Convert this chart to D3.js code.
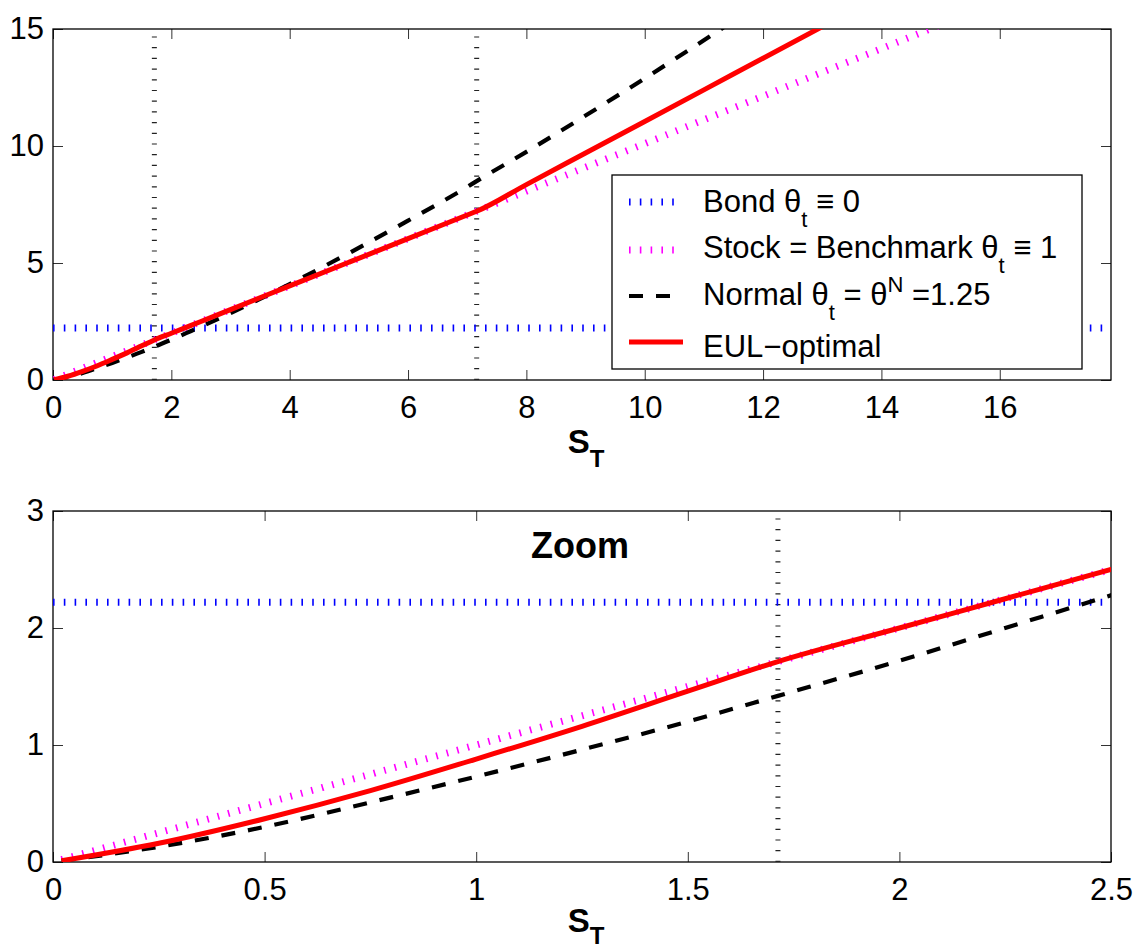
<!DOCTYPE html>
<html lang="en">
<head>
<meta charset="UTF-8">
<title>EUL-optimal wealth vs S_T</title>
<script src="https://d3js.org/d3.v7.min.js"></script>
<style>
    body { margin: 0; background: #fff; }
    svg { display: block; font-family: "Liberation Sans", Arial, Helvetica, sans-serif; }
    .tick text { font-size: 31px; fill: #000; }
    .tick line { stroke: #333; stroke-width: 1; }
    .frame { fill: none; stroke: #000; stroke-width: 1.3; }
    .legend text { font-size: 31px; white-space: pre; }
</style>
</head>
<body>
<div id="fig"></div>
<script>
    // terminal stock price grid and the wealth curves
    let sGrid    = [0.02, 0.25, 0.5, 0.75, 1, 1.25, 1.5, 1.713, 2, 2.25, 2.5, 3, 4, 5, 6, 7, 7.16, 8, 9, 10, 11, 12, 13, 14, 15];
    let stockW   = [0.02, 0.25, 0.5, 0.75, 1, 1.25, 1.5, 1.713, 2, 2.25, 2.5, 3.01, 4.02, 5.03, 6.04, 7.05, 7.21, 8.07, 9.09, 10.1, 11.12, 12.13, 13.15, 14.16, 15.18];
    let normalW  = [0.01, 0.13, 0.3, 0.51, 0.73, 0.96, 1.2, 1.42, 1.72, 2.0, 2.28, 2.86, 4.1, 5.42, 6.81, 8.25, 8.5, 9.75, 11.3, 12.89, 14.52, 16.19, 17.9, 19.6, 21.4];
    let eulW     = [0.01, 0.16, 0.37, 0.61, 0.88, 1.16, 1.46, 1.713, 2, 2.25, 2.5, 3.01, 4.02, 5.03, 6.04, 7.05, 7.21, 8.35, 9.7, 11.05, 12.4, 13.75, 15.1, 16.45, 17.8];
    let bondW = 2.22;
    let thresholds = [1.713, 7.16];

    let topXTicks = [0, 2, 4, 6, 8, 10, 12, 14, 16];
    let topYTicks = [0, 5, 10, 15];
    let zoomXTicks = [0, 0.5, 1, 1.5, 2, 2.5];
    let zoomYTicks = [0, 1, 2, 3];

    let width = 1137, height = 949;
    let svg = d3.select("#fig").append("svg").attr("width", width).attr("height", height);

    let series = [
        {values: stockW, color: "#ff00ff", width: 7, dash: "1.6,9.2"},
        {values: normalW, color: "#000", width: 4.2, dash: "14,13"},
        {values: eulW, color: "#ff0000", width: 5, dash: null}
    ];

    let fmt = d => String(d);

    function drawPanel(cfg) {
        let g = svg.append("g").attr("transform", `translate(${cfg.left},${cfg.top})`);
        let x = d3.scaleLinear().domain([0, cfg.xMax]).range([0, cfg.w]);
        let y = d3.scaleLinear().domain([0, cfg.yMax]).range([cfg.h, 0]);

        svg.append("clipPath").attr("id", cfg.id)
            .append("rect").attr("x", cfg.left).attr("y", cfg.top)
            .attr("width", cfg.w).attr("height", cfg.h);
        let plot = svg.append("g").attr("clip-path", `url(#${cfg.id})`)
            .append("g").attr("transform", `translate(${cfg.left},${cfg.top})`);

        // dotted verticals at the switching points
        thresholds.filter(t => t <= cfg.xMax).forEach(t => {
            plot.append("line")
                .attr("x1", x(t)).attr("x2", x(t))
                .attr("y1", y(0)).attr("y2", y(cfg.yMax))
                .attr("stroke", "#222").attr("stroke-width", 5)
                .attr("stroke-dasharray", "1.2,9.5");
        });

        // bond
        plot.append("line")
            .attr("x1", x(0)).attr("x2", x(cfg.xMax))
            .attr("y1", y(bondW)).attr("y2", y(bondW))
            .attr("stroke", "#0000ff").attr("stroke-width", 7)
            .attr("stroke-dasharray", "1.6,9.2");

        let line = d3.line().x(d => x(d[0])).y(d => y(d[1])).curve(d3.curveMonotoneX);
        series.forEach(s => {
            plot.append("path").datum(d3.zip(sGrid, s.values))
                .attr("d", line)
                .attr("fill", "none")
                .attr("stroke", s.color)
                .attr("stroke-width", s.width)
                .attr("stroke-dasharray", s.dash);
        });

        // axes, ticks pointing inward
        g.append("g").attr("transform", `translate(0,${cfg.h})`)
            .call(d3.axisBottom(x).tickValues(cfg.xTicks).tickSize(-10).tickPadding(16).tickFormat(fmt))
            .call(a => a.select(".domain").remove());
        g.append("g")
            .call(d3.axisTop(x).tickValues(cfg.xTicks).tickSize(-10).tickFormat(""))
            .call(a => a.select(".domain").remove());
        g.append("g")
            .call(d3.axisLeft(y).tickValues(cfg.yTicks).tickSize(-10).tickPadding(9).tickFormat(fmt))
            .call(a => a.select(".domain").remove());
        g.append("g").attr("transform", `translate(${cfg.w},0)`)
            .call(d3.axisRight(y).tickValues(cfg.yTicks).tickSize(-10).tickFormat(""))
            .call(a => a.select(".domain").remove());
        g.selectAll("g").attr("font-family", null).attr("font-size", null);

        g.append("rect").attr("class", "frame").attr("width", cfg.w).attr("height", cfg.h);

        // S_T label
        let lab = g.append("text")
            .attr("x", cfg.w / 2 + 4).attr("y", cfg.h + cfg.labelDy)
            .attr("text-anchor", "middle")
            .attr("font-weight", "bold").attr("font-size", 33);
        lab.append("tspan").text("S");
        lab.append("tspan").attr("font-size", 24).attr("dy", cfg.subDy).text("T");

        return {g: g, x: x, y: y};
    }

    let topPanel = drawPanel({id: "clipTop", left: 53, top: 29, w: 1058, h: 351, xMax: 17.88, yMax: 15,
        xTicks: topXTicks, yTicks: topYTicks, labelDy: 73, subDy: 14});
    let zoomPanel = drawPanel({id: "clipBottom", left: 53, top: 511, w: 1058, h: 351, xMax: 2.5, yMax: 3,
        xTicks: zoomXTicks, yTicks: zoomYTicks, labelDy: 70, subDy: 12});

    zoomPanel.g.append("text")
        .attr("x", 527).attr("y", 47)
        .attr("text-anchor", "middle")
        .attr("font-weight", "bold").attr("font-size", 36)
        .text("Zoom");

    // legend in the top panel
    let legend = svg.append("g").attr("class", "legend");
    legend.append("rect")
        .attr("x", 612).attr("y", 175).attr("width", 470).attr("height", 194)
        .attr("fill", "#fff").attr("stroke", "#000").attr("stroke-width", 1.3);

    let entries = [
        {color: "#0000ff", width: 7, dash: "1.6,9.2", ly: 202, ty: 212,
            parts: [["Bond θ"], ["t", "sub"], [" ≡ 0"]]},
        {color: "#ff00ff", width: 7, dash: "1.6,9.2", ly: 250, ty: 258,
            parts: [["Stock = Benchmark θ"], ["t", "sub"], [" ≡ 1"]]},
        {color: "#000", width: 4.2, dash: "14,13", ly: 296, ty: 305,
            parts: [["Normal θ"], ["t", "sub"], [" = θ"], ["N", "sup"], [" =1.25"]]},
        {color: "#ff0000", width: 5, dash: null, ly: 342, ty: 357,
            parts: [["EUL\u2212optimal"]]}
    ];

    entries.forEach(e => {
        legend.append("line")
            .attr("x1", 629).attr("x2", 683).attr("y1", e.ly).attr("y2", e.ly)
            .attr("stroke", e.color).attr("stroke-width", e.width)
            .attr("stroke-dasharray", e.dash);
        let t = legend.append("text").attr("x", 703).attr("y", e.ty);
        let shift = 0;
        e.parts.forEach(p => {
            let ts = t.append("tspan").text(p[0]);
            let target = p[1] === "sub" ? 15 : (p[1] === "sup" ? -13 : 0);
            if (target !== shift) ts.attr("dy", target - shift);
            if (p[1]) ts.attr("font-size", 22);
            shift = target;
        });
    });
</script>
</body>
</html>
